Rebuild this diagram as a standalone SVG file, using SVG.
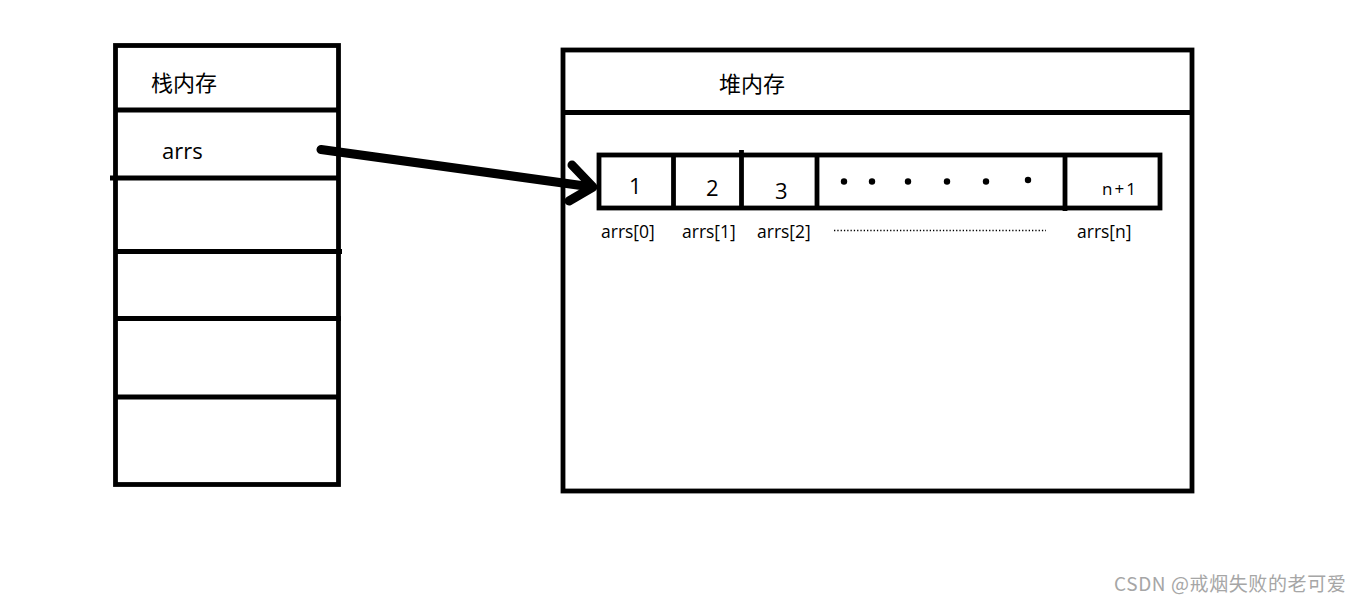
<svg xmlns="http://www.w3.org/2000/svg" width="1360" height="604" viewBox="0 0 1360 604">
<style>
.ln{stroke:#000;stroke-width:4.8;fill:none}
.cjk{font-family:"Noto Sans CJK SC","Microsoft YaHei",sans-serif;font-size:22px;fill:#000}
.lat{font-family:"Open Sans","Noto Sans",sans-serif;fill:#000}
.arr{stroke:#000;stroke-width:9;fill:none;stroke-linecap:round;stroke-linejoin:round}
</style>
<rect width="1360" height="604" fill="#fff"/>
<g id="stack">
<rect class="ln" x="115.5" y="45.5" width="223" height="439"/>
<line class="ln" x1="115.5" y1="110" x2="338.5" y2="110"/>
<line class="ln" x1="110" y1="178" x2="338.5" y2="178"/>
<line class="ln" x1="115.5" y1="251.5" x2="342" y2="251.5"/>
<line class="ln" x1="115.5" y1="318.5" x2="341" y2="318.5"/>
<line class="ln" x1="115.5" y1="397" x2="338.5" y2="397"/>
<text class="cjk" x="151" y="91">栈内存</text>
<text class="lat" x="162" y="159" font-size="22">arrs</text>
</g>
<g id="heap">
<rect class="ln" x="563" y="50" width="629" height="441"/>
<line class="ln" x1="563" y1="112.5" x2="1192" y2="112.5"/>
<text class="cjk" x="719" y="92">堆内存</text>
</g>
<g id="array">
<rect class="ln" x="599" y="155" width="561" height="53"/>
<line class="ln" x1="673.5" y1="155" x2="673.5" y2="208"/>
<line class="ln" x1="741.5" y1="150" x2="741.5" y2="208"/>
<line class="ln" x1="817" y1="155" x2="817" y2="208"/>
<line class="ln" x1="1065" y1="155" x2="1065" y2="211"/>
<g class="lat" font-size="22">
<text x="629" y="194">1</text>
<text x="706" y="196">2</text>
<text x="775" y="199">3</text>
</g>
<g fill="#000">
<circle cx="844" cy="181.5" r="3.2"/>
<circle cx="872" cy="181.5" r="3.2"/>
<circle cx="908" cy="181.5" r="3.2"/>
<circle cx="947" cy="181.5" r="3.2"/>
<circle cx="986" cy="181.5" r="3.2"/>
<circle cx="1028" cy="180" r="3.2"/>
</g>
<text class="lat" x="1102" y="195" font-size="17" letter-spacing="2">n+1</text>
<g class="lat" font-size="17.5">
<text x="601" y="238">arrs[0]</text>
<text x="682" y="238">arrs[1]</text>
<text x="757" y="238">arrs[2]</text>
<text x="1077" y="238">arrs[n]</text>
</g>
<line x1="834" y1="230.5" x2="1046" y2="230.5" stroke="#000" stroke-width="1.3" stroke-dasharray="1.3 2"/>
</g>
<g id="connectors">
<path class="arr" d="M321 149.5 L592 187"/>
<path class="arr" d="M572 165 L593 187 L569 201"/>
</g>
<text x="1114" y="591" font-family="'Noto Sans CJK SC',sans-serif" font-size="19" letter-spacing="0.6" fill="#a6a6a6">CSDN @戒烟失败的老可爱</text>
</svg>
